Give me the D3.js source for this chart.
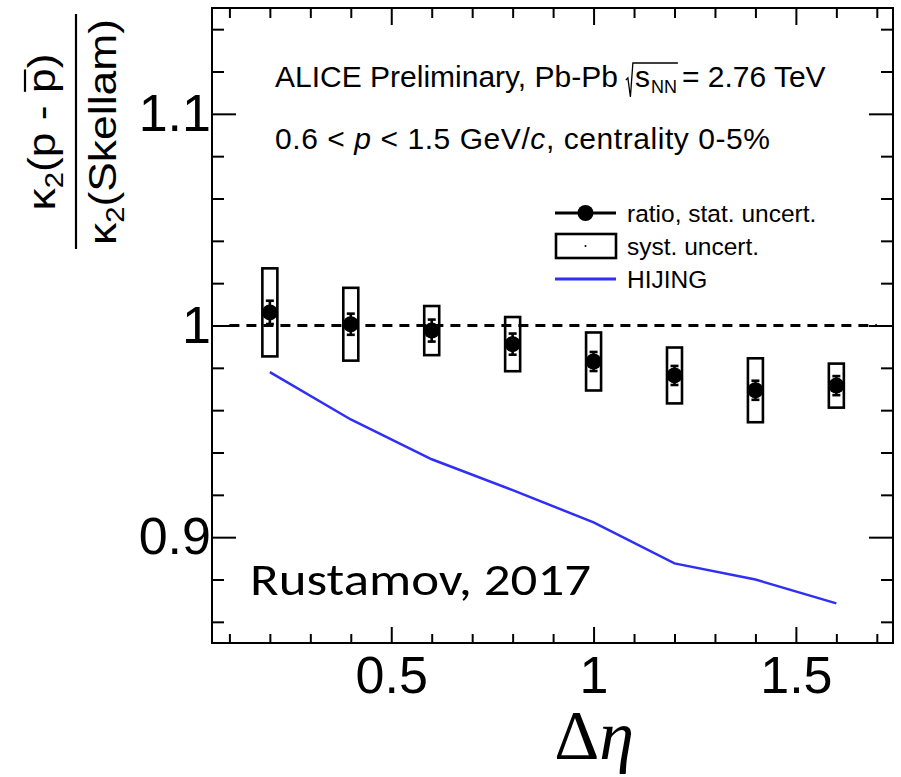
<!DOCTYPE html>
<html>
<head>
<meta charset="utf-8">
<script src="https://cdn.jsdelivr.net/npm/d3@7/dist/d3.min.js"></script>
<style>
  html, body { margin: 0; padding: 0; background: #fff; }
  svg { display: block; }
</style>
</head>
<body>
<script>
// Δη window widths at which the ratio was measured
const deta = [0.2, 0.4, 0.6, 0.8, 1.0, 1.2, 1.4, 1.6];
// κ2(p - p̄) / κ2(Skellam) measured ratio
const ratio = [1.0062, 1.0006, 0.9976, 0.9912, 0.9830, 0.9764, 0.9694, 0.9716];
// statistical uncertainty (error bars)
const statErr = [0.0055, 0.0050, 0.0052, 0.0050, 0.0045, 0.0045, 0.0045, 0.0045];
// systematic uncertainty (boxes, half height)
const systErr = [0.0208, 0.0172, 0.0116, 0.0128, 0.0137, 0.0132, 0.0151, 0.0104];
// HIJING model curve
const hijing = [0.978, 0.9556, 0.9368, 0.9222, 0.907, 0.8876, 0.8800, 0.8687];

// axis ticks
const xMajor = [0.5, 1.0, 1.5];
const xTickLabels = ["0.5", "1", "1.5"];
const yMajor = [0.9, 1.0, 1.1];
const yTickLabels = ["0.9", "1", "1.1"];
const legendLabels = ["ratio, stat. uncert.", "syst. uncert.", "HIJING"];

const W = 901, H = 777;
const frame = { left: 212, right: 893, top: 8, bottom: 643 };
const sans = "'Liberation Sans', Arial, Helvetica, sans-serif";

const x = d3.scaleLinear().domain([0.057, 1.74]).range([frame.left, frame.right]);
const y = d3.scaleLinear().domain([0.85, 1.15]).range([frame.bottom, frame.top]);

const xMinor = d3.range(1, 18).map(i => i / 10).filter(v => !xMajor.some(m => Math.abs(m - v) < 1e-9));
const yMinor = d3.range(43, 58).map(i => i / 50).filter(v => !yMajor.some(m => Math.abs(m - v) < 1e-9));

const svg = d3.select("body").append("svg")
  .attr("width", W).attr("height", H)
  .attr("viewBox", `0 0 ${W} ${H}`);

svg.append("rect").attr("width", W).attr("height", H).attr("fill", "#fff");

// ---- axes (ticks point into the frame on all four sides) ----
function styleAxis(g, fontSize) {
  g.select(".domain").remove();
  g.attr("font-family", sans).attr("font-size", fontSize);
  g.selectAll(".tick line").attr("stroke", "#000").attr("stroke-width", 2);
  g.selectAll(".tick text").attr("fill", "#000");
}

const gx = svg.append("g").attr("transform", `translate(0,${frame.bottom})`)
  .call(d3.axisBottom(x).tickValues(xMajor).tickFormat((d, i) => xTickLabels[i])
    .tickSize(-16).tickPadding(13).tickSizeOuter(0));
styleAxis(gx, 52);
const gxm = svg.append("g").attr("transform", `translate(0,${frame.bottom})`)
  .call(d3.axisBottom(x).tickValues(xMinor).tickFormat("").tickSize(-9).tickSizeOuter(0));
styleAxis(gxm, 10);

const gt = svg.append("g").attr("transform", `translate(0,${frame.top})`)
  .call(d3.axisTop(x).tickValues(xMajor).tickFormat("").tickSize(-17).tickSizeOuter(0));
styleAxis(gt, 10);
const gtm = svg.append("g").attr("transform", `translate(0,${frame.top})`)
  .call(d3.axisTop(x).tickValues(xMinor).tickFormat("").tickSize(-10).tickSizeOuter(0));
styleAxis(gtm, 10);

const gy = svg.append("g").attr("transform", `translate(${frame.left},0)`)
  .call(d3.axisLeft(y).tickValues(yMajor).tickFormat((d, i) => yTickLabels[i])
    .tickSize(-24).tickPadding(1).tickSizeOuter(0));
styleAxis(gy, 52);
const gym = svg.append("g").attr("transform", `translate(${frame.left},0)`)
  .call(d3.axisLeft(y).tickValues(yMinor).tickFormat("").tickSize(-12).tickSizeOuter(0));
styleAxis(gym, 10);

const gr = svg.append("g").attr("transform", `translate(${frame.right},0)`)
  .call(d3.axisRight(y).tickValues(yMajor).tickFormat("").tickSize(-24).tickSizeOuter(0));
styleAxis(gr, 10);
const grm = svg.append("g").attr("transform", `translate(${frame.right},0)`)
  .call(d3.axisRight(y).tickValues(yMinor).tickFormat("").tickSize(-12).tickSizeOuter(0));
styleAxis(grm, 10);

// frame
svg.append("rect")
  .attr("x", frame.left).attr("y", frame.top)
  .attr("width", frame.right - frame.left).attr("height", frame.bottom - frame.top)
  .attr("fill", "none").attr("stroke", "#000").attr("stroke-width", 2);

// ---- reference line at unity ----
const refX = [0.1, 1.7];
svg.append("line")
  .attr("x1", x(refX[0])).attr("x2", x(refX[1]))
  .attr("y1", y(1)).attr("y2", y(1))
  .attr("stroke", "#000").attr("stroke-width", 3)
  .attr("stroke-dasharray", "10,7");

// ---- HIJING curve ----
const pts = deta.map((d, i) => [d, hijing[i]]);
svg.append("path")
  .attr("d", d3.line().x(d => x(d[0])).y(d => y(d[1]))(pts))
  .attr("fill", "none").attr("stroke", "#2f2ff5").attr("stroke-width", 2.5);

// ---- data: systematic boxes, stat bars, markers ----
const data = deta.map((d, i) => ({ d, r: ratio[i], s: statErr[i], sy: systErr[i] }));
const boxHalf = 7.5;

svg.append("g").selectAll("rect").data(data).join("rect")
  .attr("x", p => x(p.d) - boxHalf).attr("width", 2 * boxHalf)
  .attr("y", p => y(p.r + p.sy)).attr("height", p => y(p.r - p.sy) - y(p.r + p.sy))
  .attr("fill", "none").attr("stroke", "#000").attr("stroke-width", 2.6);

const eb = svg.append("g").attr("stroke", "#000").attr("stroke-width", 2.6);
eb.selectAll("line.v").data(data).join("line").attr("class", "v")
  .attr("x1", p => x(p.d)).attr("x2", p => x(p.d))
  .attr("y1", p => y(p.r - p.s)).attr("y2", p => y(p.r + p.s));
eb.selectAll("line.t").data(data).join("line").attr("class", "t")
  .attr("x1", p => x(p.d) - 4).attr("x2", p => x(p.d) + 4)
  .attr("y1", p => y(p.r + p.s)).attr("y2", p => y(p.r + p.s));
eb.selectAll("line.b").data(data).join("line").attr("class", "b")
  .attr("x1", p => x(p.d) - 4).attr("x2", p => x(p.d) + 4)
  .attr("y1", p => y(p.r - p.s)).attr("y2", p => y(p.r - p.s));

svg.append("g").selectAll("circle").data(data).join("circle")
  .attr("cx", p => x(p.d)).attr("cy", p => y(p.r)).attr("r", 8)
  .attr("fill", "#000");

// ---- header text ----
const hdr = svg.append("g").attr("font-family", sans).attr("font-size", 30).attr("fill", "#000");
const h1a = hdr.append("text").attr("x", 275).attr("y", 87).text("ALICE Preliminary, Pb-Pb");
let cx = 275 + h1a.node().getComputedTextLength() + 8;
const by = 87;
const sqrtStart = cx;
const sText = hdr.append("text").attr("x", cx + 9).attr("y", by).text("s");
let sEnd = cx + 9 + sText.node().getComputedTextLength();
const nn = hdr.append("text").attr("x", sEnd + 1).attr("y", by + 6).attr("font-size", 18).text("NN");
let nnEnd = sEnd + 1 + nn.node().getComputedTextLength();
hdr.append("path")
  .attr("d", `M${sqrtStart},${by - 7} L${sqrtStart + 2},${by - 9} L${sqrtStart + 4.5},${by + 10} L${sqrtStart + 7},${by - 24} L${nnEnd + 1},${by - 24}`)
  .attr("fill", "none").attr("stroke", "#000").attr("stroke-width", 1.3);
hdr.append("text").attr("x", nnEnd + 5).attr("y", by).text("= 2.76 TeV");

const h2 = hdr.append("text").attr("x", 275).attr("y", 149)
  .attr("textLength", 495).attr("lengthAdjust", "spacing");
h2.append("tspan").text("0.6 < ");
h2.append("tspan").attr("font-style", "italic").text("p");
h2.append("tspan").text(" < 1.5 GeV/");
h2.append("tspan").attr("font-style", "italic").text("c");
h2.append("tspan").text(", centrality 0-5%");

// ---- legend ----
const lg = svg.append("g");
const lx0 = 555, lx1 = 616, lmid = (lx0 + lx1) / 2;
const rows = [213, 246, 279];
lg.append("line").attr("x1", lx0).attr("x2", lx1).attr("y1", rows[0]).attr("y2", rows[0])
  .attr("stroke", "#000").attr("stroke-width", 3);
lg.append("circle").attr("cx", lmid).attr("cy", rows[0]).attr("r", 8).attr("fill", "#000");
lg.append("rect").attr("x", lx0 + 1).attr("y", rows[1] - 12).attr("width", lx1 - lx0 - 1).attr("height", 24)
  .attr("fill", "none").attr("stroke", "#000").attr("stroke-width", 2.6);
lg.append("circle").attr("cx", lmid).attr("cy", rows[1]).attr("r", 1).attr("fill", "#000");
lg.append("line").attr("x1", lx0).attr("x2", lx1).attr("y1", rows[2]).attr("y2", rows[2])
  .attr("stroke", "#2f2ff5").attr("stroke-width", 3);
lg.selectAll("text").data(legendLabels).join("text")
  .attr("x", 627).attr("y", (d, i) => rows[i] + 8.5)
  .attr("font-family", sans).attr("font-size", 24.5).attr("fill", "#000")
  .text(d => d);

// ---- y-axis title: fraction ----
const yt = svg.append("g").attr("font-family", sans).attr("font-size", 38).attr("fill", "#000");
const num = yt.append("g").attr("transform", "translate(55,132) rotate(-90) scale(1.17,1)");
const numText = num.append("text").attr("text-anchor", "middle");
numText.append("tspan").text("κ");
numText.append("tspan").attr("font-size", 25).attr("dy", 8).text("2");
numText.append("tspan").attr("dy", -8).text("(p - p)");
{
  const n = numText.node();
  const s = n.getStartPositionOfChar(7).x, e = n.getEndPositionOfChar(7).x;
  num.append("line").attr("x1", s + 1).attr("x2", e - 1).attr("y1", -30).attr("y2", -30)
    .attr("stroke", "#000").attr("stroke-width", 2.2);
}
yt.append("line").attr("x1", 76).attr("x2", 76).attr("y1", 14).attr("y2", 249)
  .attr("stroke", "#000").attr("stroke-width", 2.2);
const den = yt.append("g").attr("transform", "translate(116,132) rotate(-90) scale(1.17,1)");
const denText = den.append("text").attr("text-anchor", "middle");
denText.append("tspan").text("κ");
denText.append("tspan").attr("font-size", 25).attr("dy", 8).text("2");
denText.append("tspan").attr("dy", -8).text("(Skellam)");

// ---- x-axis title ----
const xt = svg.append("text").attr("x", 594).attr("y", 759).attr("text-anchor", "middle")
  .attr("font-family", "'Liberation Serif', 'DejaVu Serif', serif").attr("font-size", 70).attr("fill", "#000");
xt.append("tspan").text("Δ");
xt.append("tspan").attr("font-style", "italic").text("η");

// ---- citation ----
svg.append("text").attr("x", 250).attr("y", 595)
  .attr("font-family", "Carlito, Lato, 'Open Sans', sans-serif").attr("font-size", 45)
  .attr("fill", "#000")
  .attr("textLength", 341).attr("lengthAdjust", "spacingAndGlyphs")
  .text("Rustamov, 2017");
</script>
</body>
</html>
